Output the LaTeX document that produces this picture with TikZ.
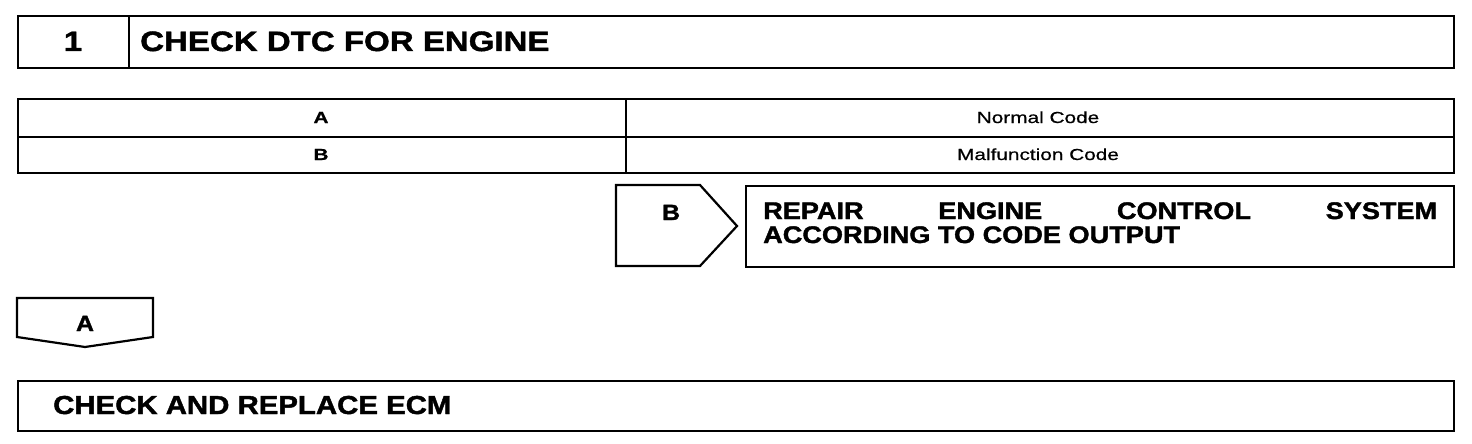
\documentclass[tikz,border=0pt]{standalone}
\usepackage{fontspec}
\setmainfont{Liberation Sans}
\newfontfamily\hbt{Liberation Sans Bold}[FakeStretch=1.18,FakeBold=1.6]
\newfontfamily\hb{Liberation Sans Bold}[FakeStretch=1.13,FakeBold=1.6]
\newfontfamily\tb{Liberation Sans}[FakeStretch=1.3,FakeBold=0.6]
\begin{document}
\begin{tikzpicture}[x=1pt,y=-1pt,
  cell/.style={draw, line width=2.2pt, anchor=north west, inner sep=0pt},
  outline/.style={draw, line width=2.2pt, line join=miter},
  big/.style={font=\hbt\fontsize{28}{30}\selectfont, inner sep=0pt},
  low/.style={font=\hb\fontsize{26}{28}\selectfont, inner sep=0pt},
  mid/.style={font=\hb\fontsize{24}{26}\selectfont, inner sep=0pt},
  lab/.style={font=\hb\fontsize{22}{24}\selectfont, inner sep=0pt},
  tab/.style={font=\tb\fontsize{16}{18}\selectfont, inner sep=0pt}]
\useasboundingbox (0,0) rectangle (1472,444);
% title
\node[cell, minimum width=111pt, minimum height=52pt] (numcell) at (17,15) {};
\node[cell, minimum width=1325pt, minimum height=52pt] (titlecell) at (128,15) {};
\node[big, anchor=base] (num) at (73,51) {1};
\node[big, anchor=base west] (title) at (140,51) {CHECK DTC FOR ENGINE};
% table
\node[cell, minimum width=608pt, minimum height=38pt] (ca) at (17,98) {};
\node[cell, minimum width=828pt, minimum height=38pt] (cn) at (625,98) {};
\node[cell, minimum width=608pt, minimum height=36pt] (cb) at (17,136) {};
\node[cell, minimum width=828pt, minimum height=36pt] (cm) at (625,136) {};
\node[tab, anchor=base] (ta) at (321,123) {\bfseries A};
\node[tab, anchor=base] (tn) at (1038,123) {Normal Code};
\node[tab, anchor=base] (tbb) at (321,160) {\bfseries B};
\node[tab, anchor=base] (tm) at (1038,160) {Malfunction Code};
% B branch
\draw[outline] (616,185) -- (700,185) -- (737,226) -- (700,266) -- (616,266) -- cycle;
\node[lab, anchor=base] (blab) at (671,220) {B};
\node[cell, minimum width=708pt, minimum height=81pt] (repair) at (745,185) {};
\node[mid, anchor=base west] (rep1) at (763,219) {\makebox[674pt][s]{REPAIR ENGINE CONTROL SYSTEM}};
\node[mid, anchor=base west] (rep2) at (763,243) {ACCORDING TO CODE OUTPUT};
% A branch
\draw[outline] (17,298) -- (153,298) -- (153,337) -- (85,347) -- (17,337) -- cycle;
\node[lab, anchor=base] (alab) at (85,331) {A};
\node[cell, minimum width=1436pt, minimum height=50pt] (ecm) at (17,380) {};
\node[low, anchor=base west] (ecmtext) at (53,414) {CHECK AND REPLACE ECM};
\end{tikzpicture}
\end{document}
